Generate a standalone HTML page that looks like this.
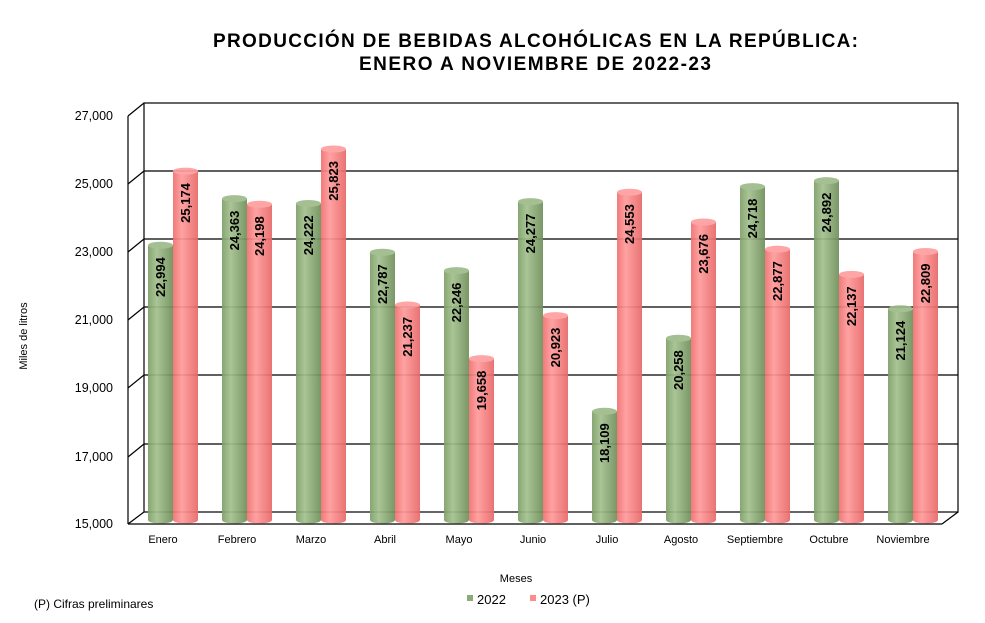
<!DOCTYPE html>
<html><head><meta charset="utf-8"><style>
body{margin:0;background:#fff}
svg{display:block;font-family:"Liberation Sans",Arial,sans-serif}
</style></head><body>
<svg width="985" height="623" viewBox="0 0 985 623" xmlns="http://www.w3.org/2000/svg">
<defs>
<linearGradient id="g" x1="0" x2="1" y1="0" y2="0">
<stop offset="0" stop-color="#7e9f68"/><stop offset="0.35" stop-color="#a3c08d"/><stop offset="1" stop-color="#6f8f5a"/></linearGradient>
<linearGradient id="r" x1="0" x2="1" y1="0" y2="0">
<stop offset="0" stop-color="#f07070"/><stop offset="0.35" stop-color="#ff9a9a"/><stop offset="1" stop-color="#e86868"/></linearGradient>
</defs>
<text x="213" y="47" font-size="19" font-weight="bold" textLength="645" lengthAdjust="spacing">PRODUCCIÓN DE BEBIDAS ALCOHÓLICAS EN LA REPÚBLICA:</text>
<text x="359" y="70" font-size="19" font-weight="bold" textLength="352" lengthAdjust="spacing">ENERO A NOVIEMBRE DE 2022-23</text>
<g stroke="#000" stroke-width="1.2" fill="none">
<rect x="144" y="103" width="814" height="409"/>
<line x1="144" y1="171" x2="958" y2="171"/>
<line x1="144" y1="239" x2="958" y2="239"/>
<line x1="144" y1="307" x2="958" y2="307"/>
<line x1="144" y1="375" x2="958" y2="375"/>
<line x1="144" y1="444" x2="958" y2="444"/>
<line x1="128" y1="116" x2="128" y2="524"/>
<line x1="128" y1="524" x2="942" y2="524"/>
<line x1="942" y1="524" x2="958" y2="512"/>
<line x1="128" y1="116" x2="144" y2="103"/>
<line x1="128" y1="184" x2="144" y2="171"/>
<line x1="128" y1="252" x2="144" y2="239"/>
<line x1="128" y1="320" x2="144" y2="307"/>
<line x1="128" y1="388" x2="144" y2="375"/>
<line x1="128" y1="457" x2="144" y2="444"/>
<line x1="128" y1="524" x2="144" y2="512"/>
</g>
<g font-size="12.5" text-anchor="end">
<text x="113" y="120">27,000</text><text x="113" y="188">25,000</text><text x="113" y="256">23,000</text>
<text x="113" y="324">21,000</text><text x="113" y="392">19,000</text><text x="113" y="461">17,000</text><text x="113" y="528">15,000</text>
</g>
<text transform="translate(27,336) rotate(-90)" text-anchor="middle" font-size="11">Miles de litros</text>
<g id="bars" opacity="0.92"></g>
<g font-size="11" text-anchor="middle">
<text x="163" y="543">Enero</text><text x="237" y="543">Febrero</text><text x="311" y="543">Marzo</text><text x="385" y="543">Abril</text>
<text x="459" y="543">Mayo</text><text x="533" y="543">Junio</text><text x="607" y="543">Julio</text><text x="681" y="543">Agosto</text>
<text x="755" y="543">Septiembre</text><text x="829" y="543">Octubre</text><text x="903" y="543">Noviembre</text>
</g>
<text x="516" y="582" text-anchor="middle" font-size="11">Meses</text>
<rect x="467" y="595" width="6" height="6" fill="#8aad73"/><text x="477" y="604" font-size="13">2022</text>
<rect x="530" y="595" width="6" height="6" fill="#ff8a8a"/><text x="540" y="604" font-size="13">2023 (P)</text>
<text x="34" y="608" font-size="12">(P) Cifras  preliminares</text>
<g id="labels" font-size="13" font-weight="bold" text-anchor="end"></g>
<script>
var G=[22994,24363,24222,22787,22246,24277,18109,20258,24718,24892,21124];
var R=[25174,24198,25823,21237,19658,20923,24553,23676,22877,22137,22809];
var ns="http://www.w3.org/2000/svg",b=document.getElementById('bars'),L=document.getElementById('labels');
function el(p,t,a){var e=document.createElementNS(ns,t);for(var k in a)e.setAttribute(k,a[k]);p.appendChild(e);return e;}
function bar(x,v,fill,top){var y=517-(v-15000)*0.034,w=25,cx=x+w/2;
el(b,'ellipse',{cx:cx,cy:520,rx:12.5,ry:3.5,fill:fill});
el(b,'rect',{x:x,y:y,width:w,height:520-y,fill:fill});
el(b,'ellipse',{cx:cx,cy:y,rx:12.5,ry:3.5,fill:top});
var t=el(L,'text',{transform:'translate('+(cx+4.5)+','+(y+12)+') rotate(-90)'});t.textContent=v.toLocaleString('en-US');}
for(var i=0;i<11;i++){bar(148+74*i,G[i],'url(#g)','#9dba88');bar(173+74*i,R[i],'url(#r)','#ff9e9e');}
</script>
</svg>
</body></html>
